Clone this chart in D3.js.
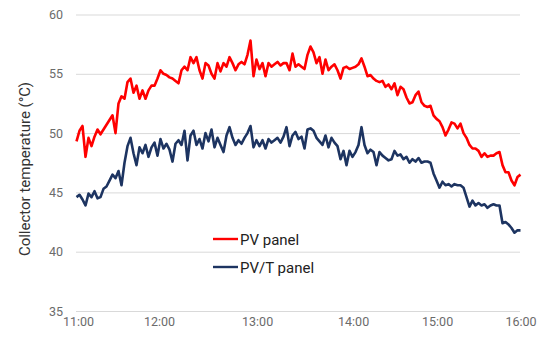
<!DOCTYPE html>
<html><head><meta charset="utf-8">
<script src="https://cdn.jsdelivr.net/npm/d3@7"></script>
<style>html,body{margin:0;padding:0;background:#fff;}svg{display:block;font-family:Roboto,"Noto Sans",sans-serif;}</style>
</head><body>
<svg id="chart" width="537" height="339"></svg>
<script>
const pvPanel = [49.3,50.2,50.6,48.0,49.6,48.9,49.7,50.3,49.9,50.3,50.7,51.1,51.5,50.0,52.5,53.1,52.9,54.3,54.6,53.4,
54.0,52.9,53.6,52.9,53.6,54.0,54.0,54.6,55.3,55.0,54.9,54.7,54.6,54.4,54.2,55.3,55.6,55.3,56.4,55.9,
56.4,55.3,54.6,55.9,55.7,55.0,54.6,55.9,55.2,55.9,55.6,56.4,55.9,55.3,55.8,56.0,55.8,56.6,57.8,54.8,
56.2,55.4,55.9,54.8,55.9,55.6,55.8,56.0,55.7,55.9,55.9,55.3,56.7,55.6,55.8,55.6,55.4,56.6,57.3,56.8,
55.9,56.4,55.0,56.2,55.3,55.6,55.8,55.3,54.6,55.5,55.6,55.4,55.5,55.6,55.8,56.3,55.6,54.8,54.9,54.6,
54.4,54.3,54.4,53.9,54.1,53.7,54.2,53.2,53.9,53.7,53.0,52.5,52.6,53.2,53.5,52.6,52.3,52.2,52.3,51.5,
51.2,51.0,50.5,49.8,50.3,50.9,50.8,50.4,50.8,50.0,49.6,49.0,48.7,48.7,48.5,48.0,48.3,48.0,48.1,48.1,
48.3,48.4,47.3,46.7,46.7,46.0,45.6,46.3,46.5];
const pvtPanel = [44.6,44.8,44.4,43.9,44.9,44.6,45.1,44.5,44.6,45.3,45.5,46.0,46.5,46.2,46.8,45.6,47.5,48.9,49.6,48.3,
47.3,48.8,48.3,49.0,48.0,48.8,49.2,48.1,49.5,48.7,49.1,48.6,47.6,49.1,49.4,49.0,50.2,47.7,49.8,50.2,
49.0,49.5,48.7,50.0,49.3,50.3,48.8,49.6,49.0,48.4,49.8,50.5,49.6,49.0,49.4,49.1,49.6,50.0,50.6,48.8,
49.4,48.9,49.4,48.7,49.5,49.2,49.4,49.6,49.2,49.7,50.5,48.9,49.8,50.1,49.5,49.7,48.7,50.3,50.4,50.2,
49.6,49.3,49.0,49.8,48.8,49.6,49.2,48.9,47.8,48.5,47.3,48.5,48.0,48.4,49.0,50.5,49.0,48.3,48.6,48.4,
47.3,48.4,48.1,47.9,47.7,47.8,48.5,48.1,48.2,47.8,48.0,47.5,47.8,47.6,47.9,47.5,47.6,47.6,47.5,46.6,
46.0,45.4,45.9,45.6,45.7,45.5,45.7,45.6,45.6,45.4,44.6,43.8,44.3,43.9,44.1,43.9,44.0,43.7,43.9,44.0,
43.9,43.9,42.4,42.5,42.3,42.0,41.6,41.8,41.8];
const timeLabels = ["11:00","12:00","13:00","14:00","15:00","16:00"];
const timeLabelIndex = [0.5, 27.5, 60.2, 92.2, 120.2, 148];
const yTicks = [35, 40, 45, 50, 55, 60];
const seriesNames = ["PV panel", "PV/T panel"];
const seriesColors = ["#ff0000", "#1d3461"];

const svg = d3.select("#chart");
const n = pvPanel.length;
const x = d3.scaleLinear().domain([0, n - 1]).range([76.5, 520.5]);
const y = d3.scaleLinear().domain([35, 60]).range([311, 14.5]);

// gridlines
const yAxis = d3.axisLeft(y).tickValues(yTicks).tickSize(-(520 - 76)).tickPadding(13);
const gy = svg.append("g").attr("transform", "translate(76,0)").call(yAxis);
gy.select(".domain").remove();
gy.selectAll(".tick line").attr("stroke", "#d9d9d9").attr("stroke-width", 1);
gy.selectAll(".tick text").attr("fill", "#6b6b6b").attr("font-size", 12.5).attr("font-family", "Roboto");

// x axis labels
const xAxis = d3.axisBottom(x).tickValues(timeLabelIndex).tickFormat((d, i) => timeLabels[i]).tickSize(0).tickPadding(6);
const gx = svg.append("g").attr("transform", "translate(0,311)").call(xAxis);
gx.select(".domain").remove();
gx.selectAll(".tick text").attr("fill", "#6b6b6b").attr("font-size", 12.5).attr("font-family", "Roboto");

// y title
svg.append("text").attr("transform", "translate(30,169) rotate(-90)")
  .attr("text-anchor", "middle").attr("font-size", 15).attr("fill", "#333")
  .text("Collector temperature (°C)");

const line = d3.line().x((d, i) => x(i)).y(d => y(d)).curve(d3.curveLinear);
[pvPanel, pvtPanel].forEach((s, k) => {
  svg.append("path").datum(s).attr("d", line).attr("fill", "none")
    .attr("stroke", seriesColors[k]).attr("stroke-width", 2.6).attr("stroke-linejoin", "round");
});

// legend
const lg = svg.append("g");
seriesNames.forEach((name, k) => {
  const yy = 239 + k * 28;
  lg.append("line").attr("x1", 213).attr("x2", 238).attr("y1", yy).attr("y2", yy)
    .attr("stroke", seriesColors[k]).attr("stroke-width", 2.4);
  lg.append("text").attr("x", 240).attr("y", yy + 6).attr("font-size", 15).attr("fill", "#222").text(name);
});
</script>
</body></html>
